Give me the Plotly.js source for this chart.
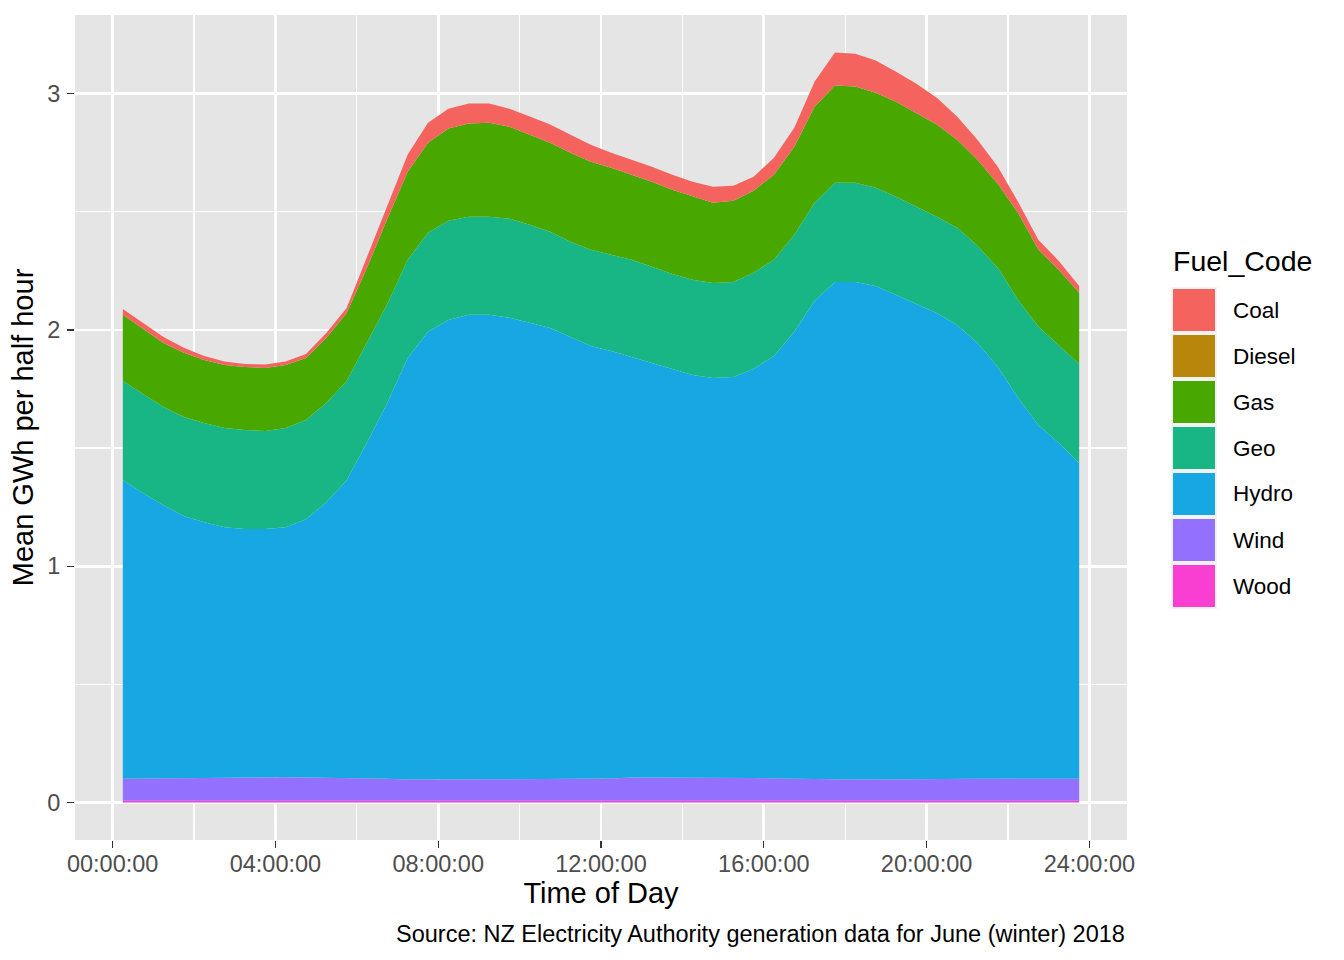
<!DOCTYPE html>
<html>
<head>
<meta charset="utf-8">
<script src="https://cdn.plot.ly/plotly-3.0.1.min.js"></script>
<style>html,body{margin:0;padding:0;background:#fff;}#chart{width:1344px;height:960px;}</style>
</head>
<body>
<div id="chart"></div>
<script>
// ---- Data (mean GWh per half hour, June 2018) ----
const times = ["00:15","00:45","01:15","01:45","02:15","02:45","03:15","03:45","04:15","04:45","05:15","05:45",
               "06:15","06:45","07:15","07:45","08:15","08:45","09:15","09:45","10:15","10:45","11:15","11:45",
               "12:15","12:45","13:15","13:45","14:15","14:45","15:15","15:45","16:15","16:45","17:15","17:45",
               "18:15","18:45","19:15","19:45","20:15","20:45","21:15","21:45","22:15","22:45","23:15","23:45"];

const fuels = ["Coal","Diesel","Gas","Geo","Hydro","Wind","Wood"];
const fuelColors = ["#F5635E","#B8860B","#48A800","#19B685","#17A7E3","#9470FF","#F83FD2"];

const coal = [0.025,0.026,0.025,0.021,0.017,0.014,0.013,0.015,0.014,0.017,0.021,0.021,
              0.042,0.055,0.073,0.085,0.084,0.085,0.081,0.076,0.077,0.077,0.076,0.072,
              0.064,0.063,0.064,0.064,0.063,0.068,0.063,0.059,0.072,0.081,0.106,0.140,
              0.139,0.136,0.127,0.123,0.114,0.098,0.085,0.072,0.046,0.042,0.038,0.029];
const diesel = [0,0,0,0,0,0,0,0,0,0,0,0,
                0,0,0,0,0,0,0,0,0,0,0,0,
                0,0,0,0,0,0,0,0,0,0,0,0,
                0,0,0,0,0,0,0,0,0,0,0,0];
const gas = [0.280,0.275,0.271,0.272,0.267,0.267,0.267,0.267,0.267,0.262,0.275,0.288,
             0.318,0.360,0.372,0.381,0.390,0.394,0.398,0.390,0.381,0.377,0.377,0.373,
             0.368,0.360,0.360,0.356,0.352,0.339,0.344,0.347,0.360,0.372,0.407,0.411,
             0.407,0.402,0.402,0.398,0.390,0.373,0.364,0.356,0.368,0.326,0.318,0.301];
const geo = [0.420,0.420,0.416,0.419,0.420,0.420,0.419,0.415,0.420,0.420,0.420,0.420,
             0.422,0.419,0.416,0.419,0.420,0.415,0.415,0.419,0.415,0.407,0.403,0.407,
             0.407,0.411,0.407,0.402,0.403,0.402,0.402,0.407,0.407,0.411,0.415,0.420,
             0.420,0.416,0.416,0.411,0.407,0.411,0.411,0.420,0.415,0.416,0.415,0.420];
const hydro = [1.264,1.208,1.156,1.109,1.082,1.060,1.050,1.049,1.058,1.093,1.166,1.259,
               1.420,1.591,1.784,1.894,1.943,1.965,1.966,1.953,1.931,1.908,1.870,1.832,
               1.809,1.780,1.754,1.729,1.703,1.691,1.695,1.731,1.788,1.892,2.025,2.105,
               2.106,2.089,2.051,2.013,1.974,1.921,1.845,1.742,1.611,1.496,1.420,1.335];
const wind = [0.093,0.094,0.095,0.096,0.097,0.098,0.100,0.101,0.100,0.099,0.098,0.098,
              0.096,0.093,0.090,0.091,0.092,0.092,0.091,0.091,0.092,0.093,0.093,0.093,
              0.095,0.099,0.099,0.099,0.099,0.099,0.099,0.097,0.095,0.093,0.091,0.091,
              0.090,0.090,0.090,0.090,0.091,0.093,0.093,0.094,0.094,0.094,0.094,0.094];
const wood = [0.007,0.007,0.007,0.007,0.007,0.007,0.007,0.007,0.007,0.007,0.007,0.007,
              0.007,0.007,0.007,0.007,0.007,0.007,0.007,0.007,0.007,0.007,0.007,0.007,
              0.007,0.007,0.007,0.007,0.007,0.007,0.007,0.007,0.007,0.007,0.007,0.007,
              0.007,0.007,0.007,0.007,0.007,0.007,0.007,0.007,0.007,0.007,0.007,0.007];

const xTickVals = [0,4,8,12,16,20,24];
const xTickText = ["00:00:00","04:00:00","08:00:00","12:00:00","16:00:00","20:00:00","24:00:00"];
const yTickVals = [0,1,2,3];
const yTickText = ["0","1","2","3"];

// ---- Build ----
const hours = times.map(t => { const p = t.split(":").map(Number); return p[0] + p[1]/60; });
const series = {Coal: coal, Diesel: diesel, Gas: gas, Geo: geo, Hydro: hydro, Wind: wind, Wood: wood};

// stack from bottom (Wood) to top (Coal), like ggplot
const traces = fuels.slice().reverse().map(name => ({
  type: "scatter", mode: "lines", name: name,
  x: hours, y: series[name],
  stackgroup: "one",
  line: {width: 0},
  fillcolor: fuelColors[fuels.indexOf(name)],
  showlegend: false,
  hoverinfo: "x+y+name"
}));

const totals = hours.map((_, i) => fuels.reduce((s, f) => s + series[f][i], 0));
const yMax = Math.max(...totals), yMin = 0;
const yPad = (yMax - yMin) * 0.05;
const xMin = Math.min(...hours), xMax = Math.max(...hours);
const xPad = (xMax - xMin) * 0.05;

const W = 1344, H = 960;
const M = {l: 75, r: 217, t: 15, b: 120};
const pw = W - M.l - M.r, ph = H - M.t - M.b;
const px = v => (v - M.l) / pw;
const py = v => (H - M.b - v) / ph;

const FONT = "Liberation Sans, Arial, Helvetica, sans-serif";

// custom ggplot-style legend
const shapes = [];
const annotations = [];
const keyX0 = 1173, keyX1 = 1215, keyTop = 289, keyH = 42, keyStep = 46;
shapes.push({type: "rect", xref: "paper", yref: "paper",
  x0: px(keyX0 - 2), x1: px(keyX1 + 2), y0: py(keyTop - 2), y1: py(keyTop + keyStep*(fuels.length-1) + keyH + 2),
  fillcolor: "#F2F2F2", line: {width: 0}, layer: "above"});
fuels.forEach((f, k) => {
  const top = keyTop + k*keyStep;
  shapes.push({type: "rect", xref: "paper", yref: "paper",
    x0: px(keyX0), x1: px(keyX1), y0: py(top), y1: py(top + keyH),
    fillcolor: fuelColors[k], line: {width: 0}, layer: "above"});
  annotations.push({xref: "paper", yref: "paper", x: px(1231), y: py(top + keyH/2),
    xanchor: "left", yanchor: "middle", showarrow: false, text: f,
    font: {family: FONT, size: 22.5, color: "#000000"}});
});
annotations.push({xref: "paper", yref: "paper", x: px(1171), y: py(261),
  xanchor: "left", yanchor: "middle", showarrow: false, text: "Fuel_Code",
  font: {family: FONT, size: 28.5, color: "#000000"}});
annotations.push({xref: "paper", yref: "paper", x: 1, y: py(934),
  xanchor: "right", yanchor: "middle", showarrow: false,
  text: "Source: NZ Electricity Authority generation data for June (winter) 2018",
  font: {family: FONT, size: 23.5, color: "#000000"}});

const layout = {
  width: W, height: H,
  margin: M,
  paper_bgcolor: "#FFFFFF",
  plot_bgcolor: "#E5E5E5",
  font: {family: FONT},
  showlegend: false,
  xaxis: {
    range: [xMin - xPad, xMax + xPad],
    tickmode: "array", tickvals: xTickVals, ticktext: xTickText,
    ticks: "outside", ticklen: 7, tickwidth: 1.4, tickcolor: "#333333",
    ticklabelstandoff: -4,
    tickfont: {family: FONT, size: 23.5, color: "#4D4D4D"},
    showgrid: true, gridcolor: "#FFFFFF", gridwidth: 2.7,
    minor: {tickmode: "array", tickvals: [2,6,10,14,18,22], showgrid: true, gridcolor: "#FFFFFF", gridwidth: 1.35, ticks: ""},
    zeroline: false, showline: false,
    title: {text: "Time of Day", font: {family: FONT, size: 29, color: "#000000"}, standoff: 6}
  },
  yaxis: {
    range: [yMin - yPad, yMax + yPad],
    tickmode: "array", tickvals: yTickVals, ticktext: yTickText,
    ticks: "outside", ticklen: 7, tickwidth: 1.4, tickcolor: "#333333",
    ticklabelstandoff: 2,
    tickfont: {family: FONT, size: 23.5, color: "#4D4D4D"},
    showgrid: true, gridcolor: "#FFFFFF", gridwidth: 2.7,
    minor: {tickmode: "array", tickvals: [0.5,1.5,2.5], showgrid: true, gridcolor: "#FFFFFF", gridwidth: 1.35, ticks: ""},
    zeroline: false, showline: false,
    title: {text: "Mean GWh per half hour", font: {family: FONT, size: 29, color: "#000000"}, standoff: 5}
  },
  shapes: shapes,
  annotations: annotations
};

Plotly.newPlot("chart", traces, layout, {displayModeBar: false, staticPlot: true});
</script>
</body>
</html>
